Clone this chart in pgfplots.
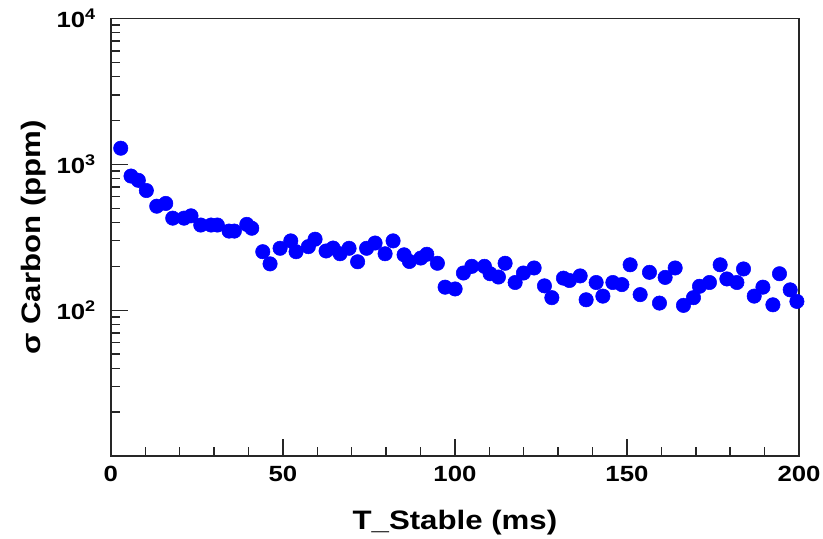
\documentclass[border=0pt]{standalone}
\usepackage{fontspec}
\setmainfont{Liberation Sans}
\newfontfamily\titlefont[FakeStretch=1.17]{Liberation Sans}
\usepackage{pgfplots}
\pgfplotsset{compat=1.18}
\usetikzlibrary{calc}
\definecolor{rootblue}{RGB}{0,0,255}

% sigma of carbon vs stable time
\pgfplotstableread{
x      y
2.88   1291
5.87   832
7.99   778
10.32  662
13.34  517
15.96  540
17.99  428
21.28  428
23.31  444
26.13  384
29.13  384
30.96  384
34.36  349
35.90  349
39.51  388
40.96  365
44.16  252
46.28  208
49.19  266
52.30  299
53.84  252
57.41  273
59.36  307
62.56  255
64.60  267
66.63  244
69.24  266
71.72  215
74.33  266
76.80  289
79.71  244
82.03  299
85.23  240
86.77  216
90.09  228
91.83  242
94.91  210
97.15  144
100.06 140
102.47 180
104.91 200
108.58 200
110.23 178
112.65 169
114.59 210
117.50 155
119.91 180
123.02 195
126.02 147
128.17 122
131.54 166
133.28 160
136.40 172
138.14 118
141.05 155
143.00 125
145.90 155
148.52 150
150.93 205
153.84 128
156.54 182
159.45 112
161.10 168
164.01 195
166.42 108
169.33 122
171.08 146
173.98 155
177.09 205
179.04 164
181.95 155
183.87 192
186.98 125
189.51 144
192.41 109
194.33 178
197.44 138
199.39 115
}\carbon

\begin{document}
\begin{tikzpicture}
\begin{axis}[
  scale only axis,
  width=516pt, height=328.1pt,
  xmin=0, xmax=200,
  ymode=log, ymin=10, ymax=10000,
  xtick={0,50,100,150,200},
  minor x tick num=4,
  ytick={100,1000,10000},
  yticklabels={10\textsuperscript{2},10\textsuperscript{3},10\textsuperscript{4}},
  minor ytick={20,30,40,50,60,70,80,90,200,300,400,500,600,700,800,900,2000,3000,4000,5000,6000,7000,8000,9000},
  xtick pos=bottom, ytick pos=left,
  tick align=inside,
  major tick length=13pt, minor tick length=7pt,
  axis line style={line width=1.4pt, black!85},
  every tick/.style={line width=1.1pt, black!85},
  /pgf/number format/assume math mode=true,
  ticklabel style={font=\titlefont\bfseries\fontsize{16.5}{16.5}\selectfont},
  xticklabel style={anchor=north, inner sep=0pt, yshift=-7.5pt},
  yticklabel style={anchor=east, inner sep=0pt, xshift=-11pt},
  xlabel={T\_Stable (ms)},
  ylabel={σ Carbon (ppm)},
  label style={font=\titlefont\bfseries\fontsize{20}{22}\selectfont},
  xlabel style={at={(axis description cs:0.5,-0.1509)}, anchor=center},
  ylabel style={at={(axis description cs:-0.112,0.5)}, anchor=center, rotate=0},
  clip=false,
]
\addplot[only marks, mark=*, mark size=5.4pt, color=rootblue] table[x=x, y=y] {\carbon};
\end{axis}
\pgfresetboundingbox
\path[use as bounding box] ($(current axis.south west)+(-83.1pt,-61.5pt)$) rectangle ($(current axis.north east)+(18pt,13.9pt)$);
\end{tikzpicture}
\end{document}
